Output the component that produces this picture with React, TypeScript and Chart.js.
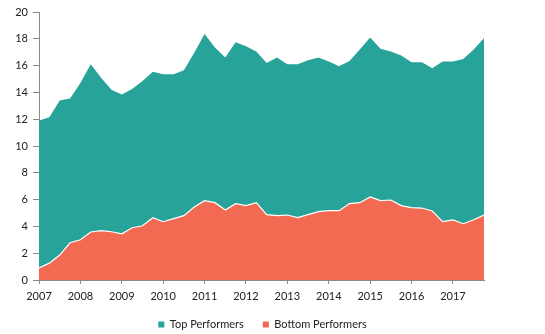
import React, { useEffect, useRef } from "react";
import { Chart, registerables } from "chart.js";

Chart.register(...registerables);

const years = [2007, 2008, 2009, 2010, 2011, 2012, 2013, 2014, 2015, 2016, 2017];
const quarters = [0, 1, 2, 3];

const topPerformers = [
  11.9, 12.15, 13.4, 13.55,
  14.7, 16.1, 15.1, 14.2,
  13.85, 14.25, 14.85, 15.55,
  15.35, 15.35, 15.65, 16.95,
  18.35, 17.35, 16.6, 17.75,
  17.45, 17.05, 16.2, 16.6,
  16.1, 16.1, 16.4, 16.6,
  16.3, 15.95, 16.35, 17.2,
  18.1, 17.25, 17.05, 16.75,
  16.25, 16.25, 15.8, 16.3,
  16.3, 16.5, 17.2, 18.05,
];

const bottomPerformers = [
  0.9, 1.26, 1.86, 2.78,
  3.0, 3.58, 3.68, 3.6,
  3.45, 3.9, 4.05, 4.65,
  4.35, 4.58, 4.8, 5.45,
  5.92, 5.77, 5.22, 5.7,
  5.55, 5.77, 4.88, 4.8,
  4.85, 4.65, 4.88, 5.1,
  5.17, 5.17, 5.7, 5.77,
  6.2, 5.92, 5.97, 5.55,
  5.4, 5.37, 5.15, 4.35,
  4.48, 4.2, 4.5, 4.85,
];

const seriesNames = ["Top Performers", "Bottom Performers"];
const yTicks = [0, 2, 4, 6, 8, 10, 12, 14, 16, 18, 20];

const TEAL = "#27a399";
const CORAL = "#f26a51";

export default function App() {
  const ref = useRef<HTMLCanvasElement | null>(null);

  useEffect(() => {
    if (!ref.current) return;
    const xs: number[] = [];
    years.forEach((y) => quarters.forEach((q) => xs.push(y + q / 4)));
    const toPts = (arr: number[]) => arr.map((v, i) => ({ x: xs[i], y: v }));
    const font = { family: "Lato", size: 11 };

    const chart = new Chart(ref.current, {
      type: "line",
      data: {
        datasets: [
          {
            label: seriesNames[0],
            data: toPts(topPerformers),
            backgroundColor: TEAL,
            borderColor: TEAL,
            borderWidth: 0,
            fill: "origin",
            pointRadius: 0,
            tension: 0,
            order: 2,
          },
          {
            label: seriesNames[1],
            data: toPts(bottomPerformers),
            backgroundColor: CORAL,
            borderColor: "#ffffff",
            borderWidth: 1.2,
            fill: "origin",
            pointRadius: 0,
            tension: 0,
            order: 1,
          },
        ],
      },
      options: {
        animation: false,
        responsive: true,
        maintainAspectRatio: false,
        layout: { padding: { top: 12, right: 20, left: 0, bottom: -6 } },
        plugins: {
          tooltip: { enabled: false },
          legend: {
            position: "bottom",
            labels: {
              font,
              color: "#222",
              boxWidth: 6,
              boxHeight: 6,
              padding: 19,
              sort: (a: any, b: any) => a.datasetIndex - b.datasetIndex,
              generateLabels: (c: any) =>
                c.data.datasets.map((d: any, i: number) => ({
                  text: d.label,
                  fillStyle: d.backgroundColor,
                  strokeStyle: d.backgroundColor,
                  lineWidth: 0,
                  hidden: false,
                  datasetIndex: i,
                  fontColor: "#222",
                })),
            },
          },
        },
        scales: {
          x: {
            type: "linear",
            min: years[0],
            max: years[years.length - 1] + 0.75,
            afterBuildTicks: (s: any) => {
              s.ticks = years.map((y) => ({ value: y }));
            },
            afterFit: (s: any) => {
              s.height = 20;
            },
            ticks: {
              font,
              color: "#222",
              padding: 6,
              maxRotation: 0,
              autoSkip: false,
              callback: (v: any) => String(v),
            },
            grid: {
              display: true,
              drawOnChartArea: false,
              tickLength: 4,
              color: "#8a8a8a",
            },
            border: { display: true, color: "#8a8a8a", width: 1 },
          },
          y: {
            min: 0,
            max: 20,
            afterBuildTicks: (s: any) => {
              s.ticks = yTicks.map((v) => ({ value: v }));
            },
            afterFit: (s: any) => {
              s.width = 39;
            },
            ticks: { font, color: "#222", padding: 5 },
            grid: {
              display: true,
              drawOnChartArea: false,
              tickLength: 6,
              color: "#8a8a8a",
            },
            border: { display: true, color: "#8a8a8a", width: 1 },
          },
          y2: {
            position: "right",
            display: true,
            min: 0,
            max: 20,
            afterFit: (s: any) => {
              s.width = 41;
            },
            ticks: { display: false },
            grid: { display: false },
            border: { display: false },
          },
        },
      },
    });
    return () => chart.destroy();
  }, []);

  return (
    <div style={{ position: "fixed", left: 0, top: 0, width: 545, height: 334, background: "#fff" }}>
      <canvas ref={ref} />
    </div>
  );
}
